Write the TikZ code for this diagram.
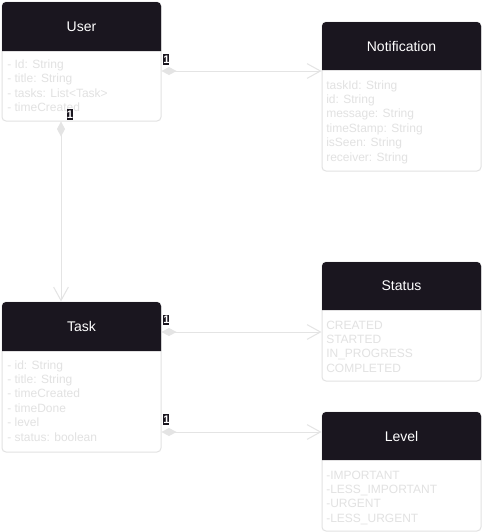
\documentclass[tikz,border=0pt]{standalone}
\usepackage{fontspec}
\setmainfont{Liberation Sans}
\usetikzlibrary{arrows.meta,fit}
\definecolor{hdr}{HTML}{1A161F}
\definecolor{bord}{HTML}{E2E2E2}
\definecolor{attrc}{HTML}{E2E2E2}
\definecolor{connc}{HTML}{E4E4E4}
\begin{document}
\begin{tikzpicture}[x=0.75pt,y=-0.75pt,
  box/.style={draw=bord, line width=0.75pt, rounded corners=3pt, inner sep=0pt, fill=white},
  titletext/.style={text=white, font=\fontsize{10.5}{12}\selectfont, inner sep=0pt},
  attr/.style={text=attrc, font=\fontsize{9}{11}\selectfont, anchor=base west, inner sep=0pt},
  conn/.style={draw=connc, line width=0.75pt},
  rel/.style={conn, {Diamond[length=11.25pt,width=6pt,fill=connc]}-{Straight Barb[length=10pt,width=11pt]}},
  one/.style={fill=hdr, text=white, font=\fontsize{8.25}{9}\selectfont\bfseries, inner xsep=0pt, inner ysep=0pt, minimum height=8pt, minimum width=4.2pt, anchor=north west}
]
\fill[white] (0,0) rectangle (482,532);
\useasboundingbox (0,0) rectangle (482,532);

% User
\node[box, fit={(2,2) (161,121)}] (user) {};
\fill[hdr] (2,51) [rounded corners=3pt] -- (2,2) -- (161,2) [sharp corners] -- (161,51) -- cycle;
\node[titletext] (user-t) at (81.5,26.5) {User};
\foreach \t [count=\i] in {- Id: String, - title: String, - tasks: List<Task>, - timeCreated}
  \node[attr] (user-a\i) at (7,{68+14.5*(\i-1)}) {\t};

% Notification
\node[box, fit={(322,22) (481,171)}] (notif) {};
\fill[hdr] (322,70) [rounded corners=3pt] -- (322,22) -- (481,22) [sharp corners] -- (481,70) -- cycle;
\node[titletext] (notif-t) at (401.5,46) {Notification};
\foreach \t [count=\i] in {taskId: String, id: String, message: String, timeStamp: String, isSeen: String, receiver: String}
  \node[attr] (notif-a\i) at (326,{89+14.4*(\i-1)}) {\t};

% Task
\node[box, fit={(2,302) (161,452)}] (task) {};
\fill[hdr] (2,351) [rounded corners=3pt] -- (2,302) -- (161,302) [sharp corners] -- (161,351) -- cycle;
\node[titletext] (task-t) at (81.5,326.5) {Task};
\foreach \t [count=\i] in {- id: String, - title: String, - timeCreated, - timeDone, - level, - status: boolean}
  \node[attr] (task-a\i) at (7,{369+14.4*(\i-1)}) {\t};

% Status
\node[box, fit={(322,262) (481,381)}] (status) {};
\fill[hdr] (322,310) [rounded corners=3pt] -- (322,262) -- (481,262) [sharp corners] -- (481,310) -- cycle;
\node[titletext] (status-t) at (401.5,286) {Status};
\foreach \t [count=\i] in {CREATED, STARTED, IN\_PROGRESS, COMPLETED}
  \node[attr] (status-a\i) at (326,{329+14.4*(\i-1)}) {\t};

% Level
\node[box, fit={(322,412) (481,531)}] (level) {};
\fill[hdr] (322,460) [rounded corners=3pt] -- (322,412) -- (481,412) [sharp corners] -- (481,460) -- cycle;
\node[titletext] (level-t) at (401.5,436) {Level};
\foreach \t [count=\i] in {-IMPORTANT, -LESS\_IMPORTANT, -URGENT, -LESS\_URGENT}
  \node[attr] (level-a\i) at (326,{479+14.4*(\i-1)}) {\t};

% connectors
\coordinate (r1) at (0,71);
\coordinate (r2) at (61,0);
\coordinate (r3) at (0,332);
\coordinate (r4) at (0,432);
\draw[rel] (user.east |- r1) -- (notif.west |- r1);
\draw[rel] (r2 |- user.south) -- (r2 |- task.north);
\draw[rel] (task.east |- r3) -- (status.west |- r3);
\draw[rel] (task.east |- r4) -- (level.west |- r4);

% multiplicity labels
\node[one] (m1) at (163,54) {1};
\node[one] (m2) at (66.5,109) {1};
\node[one] (m3) at (163,314.5) {1};
\node[one] (m4) at (163,414) {1};
\end{tikzpicture}
\end{document}
